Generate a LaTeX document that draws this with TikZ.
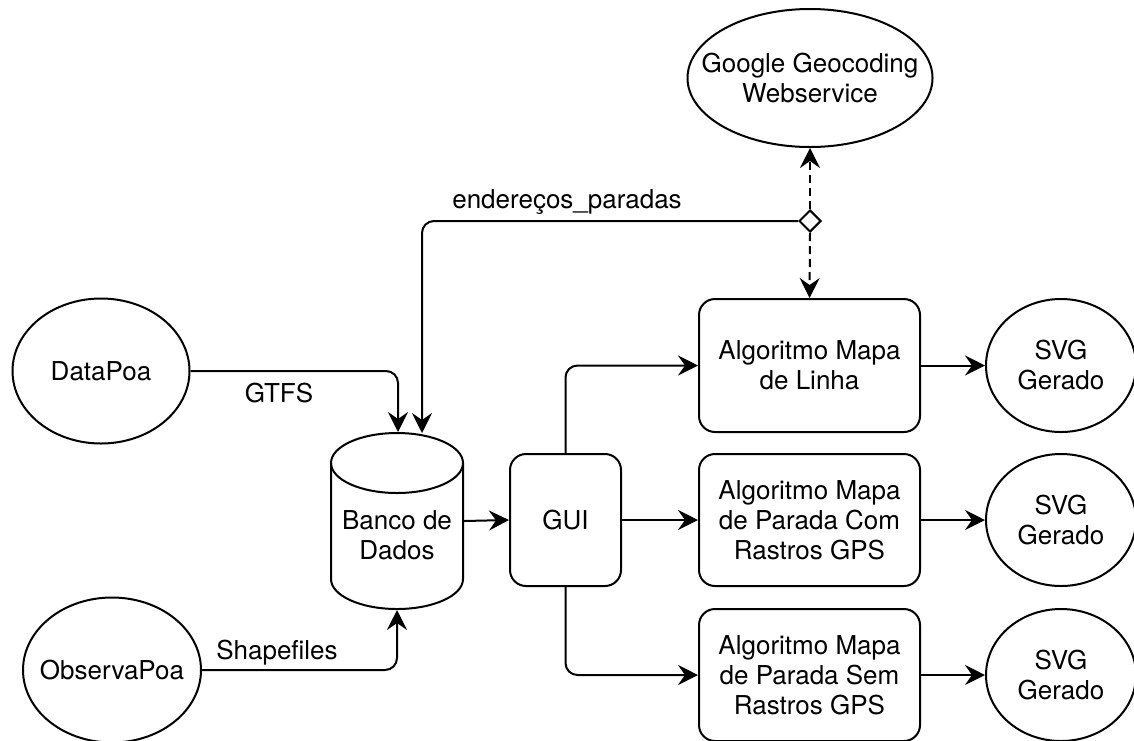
\documentclass[tikz,border=0pt]{standalone}
\usepackage{fontspec}
\setmainfont{TeX Gyre Heros}
\usetikzlibrary{shapes.geometric,arrows.meta}

\begin{document}
\begin{tikzpicture}[x=1pt,y=-1pt, line width=2pt,
  every node/.style={font=\fontsize{26}{30}\selectfont, align=center, inner sep=0pt},
  oval/.style={draw, ellipse},
  roundbox/.style={draw, rectangle, rounded corners=16pt},
  arr/.style={-{Stealth[length=20pt,width=20pt,inset=7pt]}},
  dasharr/.style={arr, dash pattern=on 8pt off 5pt},
  elbow/.style={rounded corners=12pt},
]
\useasboundingbox (0,0) rectangle (1134,740);
\clip (0,0) rectangle (1134,740);

% external sources and service (text set as centred labels so it does not size the ovals)
\node[oval, minimum width=245pt, minimum height=138pt,
  label={center:Google Geocoding\\Webservice}] (google) at (810,78) {};
\node[oval, minimum width=177pt, minimum height=145pt,
  label={center:DataPoa}] (data) at (101,371) {};
\node[oval, minimum width=178pt, minimum height=145pt,
  label={center:ObservaPoa}] (obs) at (112,670) {};

% database cylinder (outline drawn by hand around an invisible anchor box)
\node[rectangle, minimum width=132pt, minimum height=176pt] (db) at (397,521) {};
\draw (331,463) -- (331,579)
  arc[start angle=180, end angle=360, x radius=66pt, y radius=30pt] -- (463,463)
  arc[start angle=0, end angle=180, x radius=66pt, y radius=30pt] -- cycle;
\draw (331,463) arc[start angle=180, end angle=360, x radius=66pt, y radius=30pt];
\node (dblabel) at (397,535) {Banco de\\Dados};

% interface and algorithms
\node[roundbox, minimum width=111pt, minimum height=132pt] (gui) at (565.5,520) {GUI};
\node[roundbox, minimum width=221pt, minimum height=133pt] (alg1) at (809.5,365.5) {Algoritmo Mapa\\de Linha};
\node[roundbox, minimum width=221pt, minimum height=132pt] (alg2) at (809.5,520) {Algoritmo Mapa\\de Parada Com\\Rastros GPS};
\node[roundbox, minimum width=221pt, minimum height=132pt] (alg3) at (809.5,675) {Algoritmo Mapa\\de Parada Sem\\Rastros GPS};

% outputs
\node[oval, minimum width=150pt, minimum height=133pt, label={center:SVG\\Gerado}] (svg1) at (1061,365.5) {};
\node[oval, minimum width=150pt, minimum height=132pt, label={center:SVG\\Gerado}] (svg2) at (1061,520) {};
\node[oval, minimum width=150pt, minimum height=132pt, label={center:SVG\\Gerado}] (svg3) at (1061,675) {};

% junction for the geocoding requests
\node[draw, diamond, fill=white, minimum width=22pt, minimum height=22pt] (dia) at (810,221) {};

% connectors (corners rounded on the line only, tips kept sharp)
\draw[arr] (data.east) [elbow] -| ([xshift=1pt]db.north) [sharp corners];
\draw[arr] (obs.east) [elbow] -| (db.south) [sharp corners];
\draw[arr] (dia.west) [elbow] -| ([xshift=25pt,yshift=-1pt]db.north) [sharp corners];
\draw[dasharr] (dia.north) -- (google.south);
\draw[dasharr] (dia.south) -- (alg1.north);
\draw[arr] (db.east) -- (gui.west);
\draw[arr] (gui.north) [elbow] |- (alg1.west) [sharp corners];
\draw[arr] (gui.east) -- (alg2.west);
\draw[arr] (gui.south) [elbow] |- (alg3.west) [sharp corners];
\draw[arr] (alg1.east) -- (svg1.west);
\draw[arr] (alg2.east) -- (svg2.west);
\draw[arr] (alg3.east) -- (svg3.west);

% connector labels
\node (lgtfs) at (279,393) {GTFS};
\node (lshape) at (277,653) {Shapefiles};
\node (lend) at (567,202) {endereços\_paradas};
\end{tikzpicture}
\end{document}
